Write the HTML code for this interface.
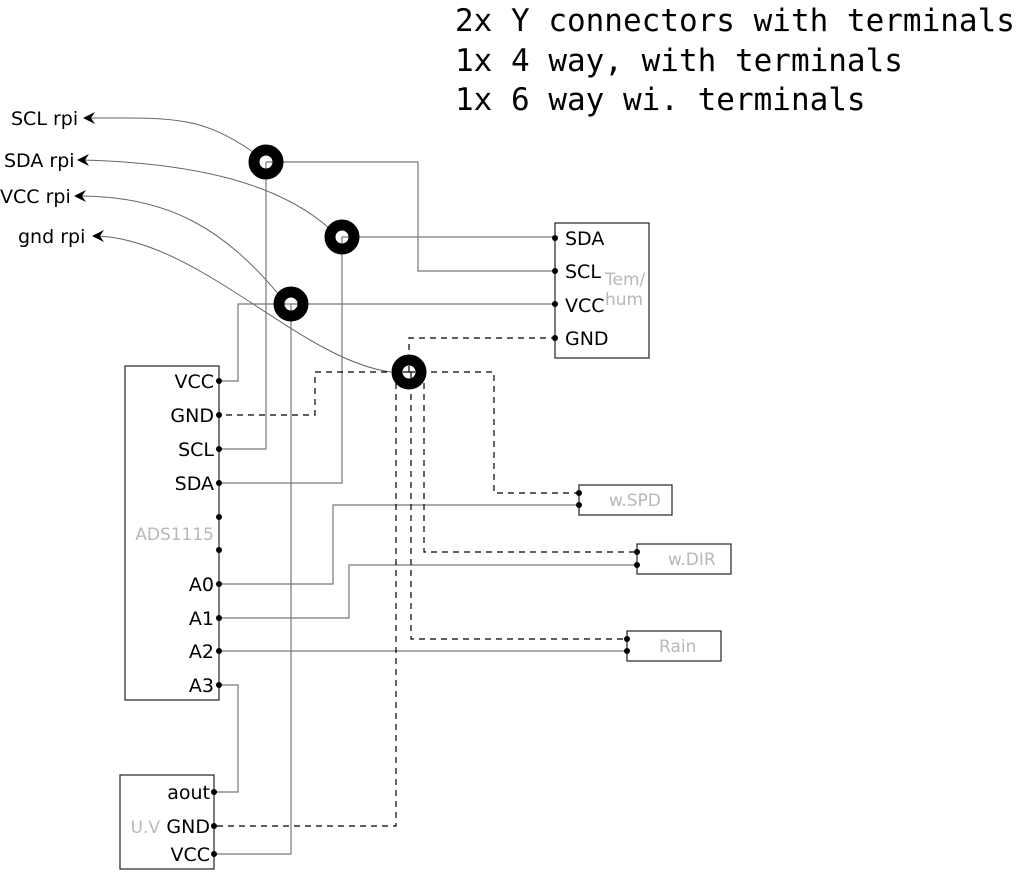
<!DOCTYPE html>
<html><head><meta charset="utf-8"><style>
html,body{margin:0;padding:0;background:#fff;}
svg{display:block;}
text{font-family:"DejaVu Sans","Liberation Sans",sans-serif;font-size:19px;fill:#000;}
.g{fill:#b8b8b8;font-size:17px;}
.m{font-family:"DejaVu Sans Mono","Liberation Mono",monospace;font-size:31px;}
.w{fill:none;stroke:#777;stroke-width:1.2;}
.d{fill:none;stroke:#000;stroke-width:1.2;stroke-dasharray:6,5;}
.b{fill:#fff;stroke:#333;stroke-width:1.3;}
</style></head><body>
<svg width="1024" height="872" viewBox="0 0 1024 872" xmlns="http://www.w3.org/2000/svg">
<text class="m" x="455" y="31">2x Y connectors with terminals</text>
<text class="m" x="455" y="71">1x 4 way, with terminals</text>
<text class="m" x="455" y="110">1x 6 way wi. terminals</text>

<text x="11" y="125">SCL rpi</text>
<text x="4" y="167">SDA rpi</text>
<text x="0" y="203">VCC rpi</text>
<text x="18" y="243">gnd rpi</text>

<rect class="b" x="555" y="223" width="94" height="135"/>
<rect class="b" x="125" y="366" width="94" height="334"/>
<rect class="b" x="120" y="775" width="94" height="94"/>
<rect class="b" x="579" y="485" width="93" height="30"/>
<rect class="b" x="637" y="544" width="94" height="30"/>
<rect class="b" x="627" y="631" width="94" height="30"/>

<g fill="none" stroke="#666" stroke-width="1">
<path d="M88 118 C170 118 200 115 253 152"/>
<path d="M82 160 C200 163 280 185 329 228"/>
<path d="M79 196 C170 196 225 230 280 296"/>
<path d="M97 236 C200 240 300 360 391 372"/>
</g>
<g fill="#000">
<path d="M83 118 l12 -6 l-4 6 l4 6z"/>
<path d="M77 160 l12 -6 l-4 6 l4 6z"/>
<path d="M74 196 l12 -6 l-4 6 l4 6z"/>
<path d="M92 236 l12 -6 l-4 6 l4 6z"/>
</g>

<polyline class="w" points="266,162 418,162 418,271 555,271"/>
<polyline class="w" points="266,162 266,449 219,449"/>
<polyline class="w" points="342,237 555,237"/>
<polyline class="w" points="342,237 342,483 219,483"/>
<polyline class="w" points="291,304 555,304"/>
<polyline class="w" points="291,304 238,304 238,381 219,381"/>
<polyline class="w" points="291,304 291,854 214,854"/>
<polyline class="w" points="219,584 333,584 333,505 579,505"/>
<polyline class="w" points="219,618 349,618 349,565 637,565"/>
<polyline class="w" points="219,651 627,651"/>
<polyline class="w" points="219,685 238,685 238,792 214,792"/>

<polyline class="d" points="409,372 409,338 555,338"/>
<polyline class="d" points="409,372 315,372 315,415 219,415"/>
<polyline class="d" points="409,372 494,372 494,493 579,493"/>
<polyline class="d" points="424,372 424,552 637,552"/>
<polyline class="d" points="411,372 411,639 627,639"/>
<polyline class="d" points="396,372 396,826 214,826"/>

<g fill="none" stroke="#000" stroke-width="11">
<circle cx="266" cy="162" r="12"/>
<circle cx="342" cy="237" r="12"/>
<circle cx="291" cy="304" r="12"/>
<circle cx="409" cy="372" r="12"/>
</g>

<g fill="#000">
<circle cx="555" cy="238" r="3"/><circle cx="555" cy="271" r="3"/><circle cx="555" cy="304" r="3"/><circle cx="555" cy="338" r="3"/>
<circle cx="219" cy="381" r="3"/><circle cx="219" cy="415" r="3"/><circle cx="219" cy="449" r="3"/><circle cx="219" cy="483" r="3"/>
<circle cx="219" cy="517" r="3"/><circle cx="219" cy="550" r="3"/><circle cx="219" cy="584" r="3"/><circle cx="219" cy="618" r="3"/>
<circle cx="219" cy="651" r="3"/><circle cx="219" cy="685" r="3"/>
<circle cx="214" cy="792" r="3"/><circle cx="214" cy="826" r="3"/><circle cx="214" cy="854" r="3"/>
<circle cx="579" cy="493" r="3"/><circle cx="579" cy="505" r="3"/>
<circle cx="637" cy="552" r="3"/><circle cx="637" cy="565" r="3"/>
<circle cx="627" cy="639" r="3"/><circle cx="627" cy="651" r="3"/>
</g>

<text x="565" y="245">SDA</text>
<text x="565" y="278">SCL</text>
<text x="565" y="312">VCC</text>
<text x="565" y="345">GND</text>
<text class="g" x="605" y="285">Tem/</text>
<text class="g" x="605" y="305">hum</text>

<g text-anchor="end">
<text x="214" y="388">VCC</text>
<text x="214" y="422">GND</text>
<text x="214" y="456">SCL</text>
<text x="214" y="490">SDA</text>
<text class="g" x="214" y="540">ADS1115</text>
<text x="214" y="591">A0</text>
<text x="214" y="625">A1</text>
<text x="214" y="658">A2</text>
<text x="214" y="692">A3</text>
<text x="210" y="799">aout</text>
<text x="210" y="833">GND</text>
<text x="210" y="861">VCC</text>
<text class="g" x="160" y="833">U.V</text>
</g>
<text class="g" x="609" y="506">w.SPD</text>
<text class="g" x="668" y="565">w.DIR</text>
<text class="g" x="659" y="652">Rain</text>
</svg>
</body></html>
